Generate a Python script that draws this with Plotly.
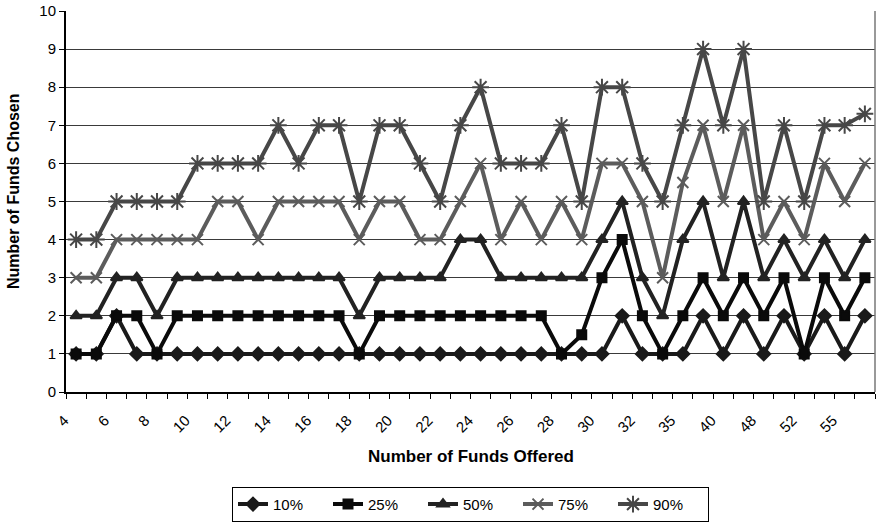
import plotly.graph_objects as go

# funds offered (categories); unlabeled odd ones between 32 and 60 are guesses
funds_offered = [4, 5, 6, 7, 8, 9, 10, 11, 12, 13, 14, 15, 16, 17, 18, 19, 20,
                 21, 22, 23, 24, 25, 26, 27, 28, 29, 30, 31, 32, 34, 35, 37, 40,
                 45, 48, 50, 52, 54, 55, 60]

p10 = [1, 1, 2, 1, 1, 1, 1, 1, 1, 1, 1, 1, 1, 1, 1, 1, 1, 1, 1, 1,
       1, 1, 1, 1, 1, 1, 1, 2, 1, 1, 1, 2, 1, 2, 1, 2, 1, 2, 1, 2]
p25 = [1, 1, 2, 2, 1, 2, 2, 2, 2, 2, 2, 2, 2, 2, 1, 2, 2, 2, 2, 2,
       2, 2, 2, 2, 1, 1.5, 3, 4, 2, 1, 2, 3, 2, 3, 2, 3, 1, 3, 2, 3]
p50 = [2, 2, 3, 3, 2, 3, 3, 3, 3, 3, 3, 3, 3, 3, 2, 3, 3, 3, 3, 4,
       4, 3, 3, 3, 3, 3, 4, 5, 3, 2, 4, 5, 3, 5, 3, 4, 3, 4, 3, 4]
p75 = [3, 3, 4, 4, 4, 4, 4, 5, 5, 4, 5, 5, 5, 5, 4, 5, 5, 4, 4, 5,
       6, 4, 5, 4, 5, 4, 6, 6, 5, 3, 5.5, 7, 5, 7, 4, 5, 4, 6, 5, 6]
p90 = [4, 4, 5, 5, 5, 5, 6, 6, 6, 6, 7, 6, 7, 7, 5, 7, 7, 6, 5, 7,
       8, 6, 6, 6, 7, 5, 8, 8, 6, 5, 7, 9, 7, 9, 5, 7, 5, 7, 7, 7.3]

SERIES = [
    ("10%", p10, "#1a1a1a", "diamond", 10),
    ("25%", p25, "#0a0a0a", "square", 9),
    ("50%", p50, "#222222", "triangle-up", 10),
    ("75%", p75, "#5c5c5c", "x-thin-open", 11),
    ("90%", p90, "#474747", "asterisk-open", 14),
]

cats = [str(v) for v in funds_offered]
# every other category labelled; trailing nbsp nudges the slanted text down-left
tick_text = [c + "\u00a0" * 4 if i % 2 == 0 else "" for i, c in enumerate(cats)]

fig = go.Figure()
for name, vals, color, symbol, size in SERIES:
    fig.add_trace(go.Scatter(
        x=cats, y=vals, name=name, mode="lines+markers",
        line=dict(color=color, width=4),
        marker=dict(symbol=symbol, size=size, color=color,
                    line=dict(color=color, width=2)),
    ))

fig.update_layout(
    width=876, height=525,
    margin=dict(l=66, r=1, t=11, b=133),
    plot_bgcolor="white", paper_bgcolor="white",
    font=dict(family="Liberation Sans, Arial", size=14, color="black"),
    showlegend=True,
    legend=dict(orientation="h", x=0.5, xanchor="center", y=-0.249, yanchor="top",
                bordercolor="black", borderwidth=1, bgcolor="white",
                font=dict(size=15), entrywidth=50, entrywidthmode="pixels",
                tracegroupgap=0),
    annotations=[
        dict(text="<b>Number of Funds Offered</b>", xref="paper", yref="paper",
             x=0.5, y=-0.168, xanchor="center", yanchor="middle", showarrow=False,
             font=dict(size=17)),
        dict(text="<b>Number of Funds Chosen</b>", xref="paper", yref="paper",
             x=-0.064, y=0.528, xanchor="center", yanchor="middle", showarrow=False,
             textangle=-90, font=dict(size=16)),
    ],
    shapes=[dict(type="line", xref="paper", yref="paper", x0=1, x1=1, y0=0, y1=1,
                 line=dict(color="#777777", width=1.5))],
)

fig.update_xaxes(
    type="category", range=[-0.5, len(cats) - 0.5], automargin=False,
    tickmode="array", tickvals=cats, ticktext=tick_text,
    tickangle=-45, tickson="boundaries", ticks="outside", ticklen=5,
    tickcolor="black", showgrid=False, showline=True, linecolor="black",
    linewidth=2, tickfont=dict(size=15), ticklabelstandoff=0,
)
fig.update_yaxes(
    range=[0, 10], dtick=1, ticks="outside", ticklen=5, tickcolor="black",
    showgrid=True, gridcolor="#3a3a3a", gridwidth=1, showline=True,
    linecolor="black", linewidth=2, zeroline=False, tickfont=dict(size=15),
    automargin=False,
)

# drop the default 8px body margin so the figure sits at the page corner
fig.write_html("out.html", config={"displayModeBar": False},
               post_script="document.body.style.margin='0px';")
